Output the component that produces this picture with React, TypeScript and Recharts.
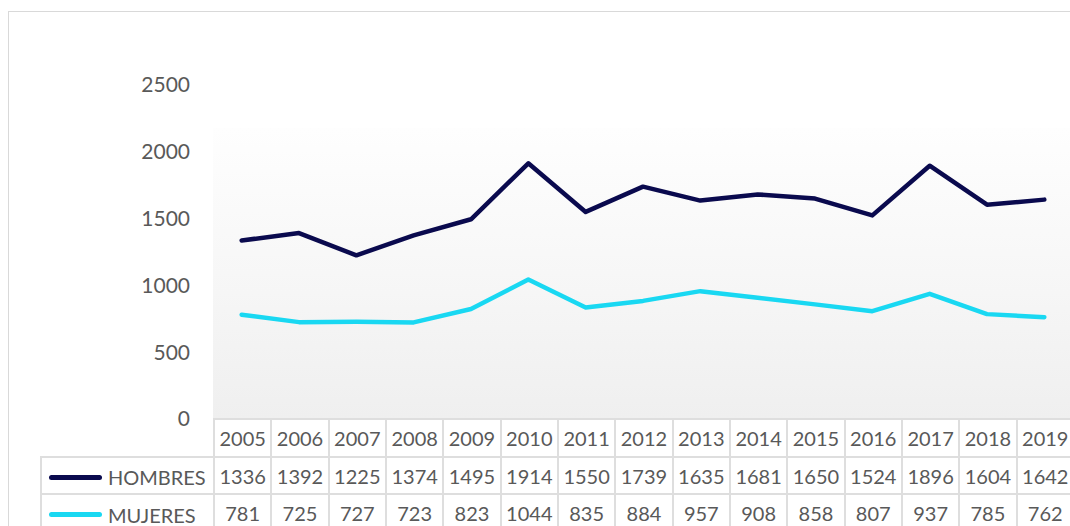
import { LineChart, Line, XAxis, YAxis } from 'recharts'

const years = ['2005', '2006', '2007', '2008', '2009', '2010', '2011', '2012', '2013', '2014', '2015', '2016', '2017', '2018', '2019']
const hombres = [1336, 1392, 1225, 1374, 1495, 1914, 1550, 1739, 1635, 1681, 1650, 1524, 1896, 1604, 1642]
const mujeres = [781, 725, 727, 723, 823, 1044, 835, 884, 957, 908, 858, 807, 937, 785, 762]
const yTicks = [0, 500, 1000, 1500, 2000, 2500]

const series = [
  { key: 'hombres', name: 'HOMBRES', color: '#0a0a4e', values: hombres },
  { key: 'mujeres', name: 'MUJERES', color: '#19d8f2', values: mujeres },
]

const data = years.map((year, i) => ({ year, hombres: hombres[i], mujeres: mujeres[i] }))

const font = 'Lato, "Open Sans", sans-serif'
const textColor = '#595959'
const border = '2px solid #dedede'
const colW = 57.33
const rowH = 37.7

export default function App() {
  return (
    <div style={{ position: 'absolute', left: 0, top: 0, width: 1070, height: 526, overflow: 'hidden', background: '#fff', fontFamily: font }}>
      {/* chart frame */}
      <div style={{ position: 'absolute', left: 8, top: 11, width: 1100, height: 600, border: '1px solid #d9d9d9' }} />
      {/* plot area fill */}
      <div
        style={{
          position: 'absolute',
          left: 213,
          top: 128,
          width: 870,
          height: 291,
          background: 'linear-gradient(to bottom, #fefefe 0%, #f7f7f7 50%, #efefef 100%)',
        }}
      />
      <div style={{ position: 'absolute', left: 0, top: 0 }}>
        <LineChart width={1090} height={526} data={data} margin={{ top: 85, right: 17, left: 0, bottom: 107 }}>
          <XAxis dataKey="year" hide padding={{ left: colW / 2, right: colW / 2 }} />
          <YAxis
            width={213}
            domain={[0, 2500]}
            ticks={yTicks}
            axisLine={false}
            tickLine={false}
            tickSize={0}
            tickMargin={23}
            tick={{ fill: textColor, fontSize: 21, fontFamily: font }}
          />
          {series.map((s) => (
            <Line
              key={s.key}
              dataKey={s.key}
              name={s.name}
              stroke={s.color}
              strokeWidth={4.5}
              strokeLinecap="round"
              strokeLinejoin="round"
              dot={false}
              activeDot={false}
              isAnimationActive={false}
            />
          ))}
        </LineChart>
      </div>
      {/* data table */}
      <table
        style={{
          position: 'absolute',
          left: 40,
          top: 418,
          borderCollapse: 'collapse',
          tableLayout: 'fixed',
          width: 172 + colW * years.length,
          fontSize: 20,
          color: textColor,
          fontFamily: font,
        }}
      >
        <colgroup>
          <col style={{ width: 173 }} />
          {years.map((y) => (
            <col key={y} style={{ width: colW }} />
          ))}
        </colgroup>
        <tbody>
          <tr style={{ height: rowH }}>
            <td style={{ border: 'none', padding: 0 }} />
            {years.map((y) => (
              <td key={y} style={{ border, padding: 0, textAlign: 'center' }}>
                {y}
              </td>
            ))}
          </tr>
          {series.map((s) => (
            <tr key={s.key} style={{ height: rowH }}>
              <td style={{ border, padding: 0, whiteSpace: 'nowrap' }}>
                <span
                  style={{
                    display: 'inline-block',
                    width: 53,
                    height: 5,
                    borderRadius: 3,
                    background: s.color,
                    marginLeft: 7,
                    marginRight: 6,
                    verticalAlign: 'middle',
                  }}
                />
                <span style={{ verticalAlign: 'middle' }}>{s.name}</span>
              </td>
              {s.values.map((v, i) => (
                <td key={i} style={{ border, padding: 0, textAlign: 'center' }}>
                  {v}
                </td>
              ))}
            </tr>
          ))}
        </tbody>
      </table>
    </div>
  )
}
